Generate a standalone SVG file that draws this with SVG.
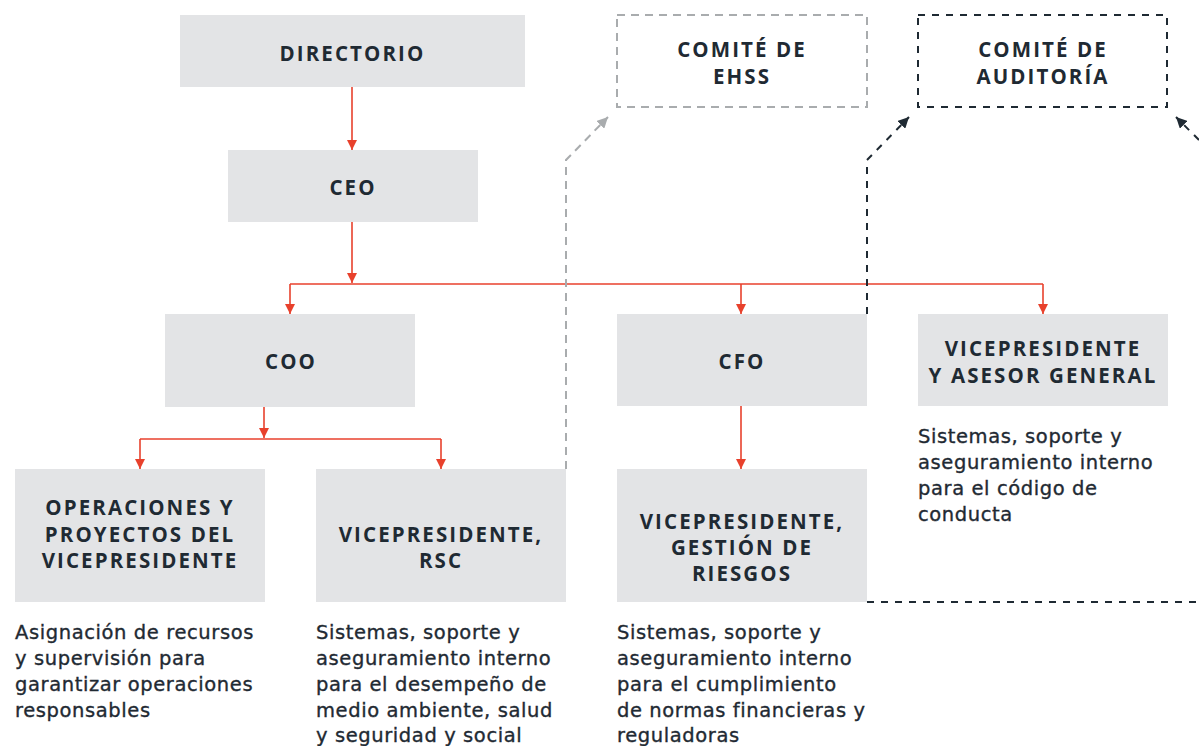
<svg xmlns="http://www.w3.org/2000/svg" width="1199" height="746" viewBox="0 0 1199 746">
<style>
.box{fill:#e3e4e6}
.t{font-family:"Open Sans","Noto Sans",sans-serif;font-weight:700;font-size:20.5px;letter-spacing:2.1px;fill:#1f2a33;text-anchor:middle}
.d{font-family:"DejaVu Sans","Open Sans",sans-serif;font-weight:400;font-size:19.5px;letter-spacing:0.6px;fill:#1f2a33;stroke:#1f2a33;stroke-width:0.35px}
.red{stroke:#e8412c;stroke-width:1.6;fill:none}
.gd{stroke:#a9acae;stroke-width:2;fill:none;stroke-dasharray:8 6}
.dd{stroke:#1f2a33;stroke-width:2;fill:none;stroke-dasharray:7 7}
</style>
<defs>
<marker id="ar" viewBox="0 0 10 10" refX="10" refY="5" markerWidth="10" markerHeight="10" markerUnits="userSpaceOnUse" orient="auto"><path d="M0,0 L10,5 L0,10 z" fill="#e8412c"/></marker>
<marker id="ag" viewBox="0 0 10 10" refX="10" refY="5" markerWidth="11" markerHeight="11" markerUnits="userSpaceOnUse" orient="auto"><path d="M0,0 L10,5 L0,10 z" fill="#a9acae"/></marker>
<marker id="ak" viewBox="0 0 10 10" refX="10" refY="5" markerWidth="11" markerHeight="11" markerUnits="userSpaceOnUse" orient="auto"><path d="M0,0 L10,5 L0,10 z" fill="#1f2a33"/></marker>
</defs>
<g id="connectors">
<path class="red" d="M352,87 V150" marker-end="url(#ar)"/>
<path class="red" d="M352,222 V283" marker-end="url(#ar)"/>
<path class="red" d="M290,284 H1043"/>
<path class="red" d="M290,284 V314" marker-end="url(#ar)"/>
<path class="red" d="M741,284 V314" marker-end="url(#ar)"/>
<path class="red" d="M1043,284 V314" marker-end="url(#ar)"/>
<path class="red" d="M264,407 V438" marker-end="url(#ar)"/>
<path class="red" d="M140,439 H441"/>
<path class="red" d="M140,439 V469" marker-end="url(#ar)"/>
<path class="red" d="M441,439 V469" marker-end="url(#ar)"/>
<path class="red" d="M741,406 V469" marker-end="url(#ar)"/>
<path class="gd" d="M566,469 V160 L608,117" marker-end="url(#ag)"/>
<path class="dd" d="M867,314 V160 L909,117" marker-end="url(#ak)"/>
<path class="dd" d="M867,602 H1199"/>
<path class="dd" d="M1199,140 L1176,117" marker-end="url(#ak)"/>
</g>
<g id="directorio"><rect class="box" x="180" y="15" width="345" height="72"/><text class="t" x="352.5" y="61">DIRECTORIO</text></g>
<g id="ceo"><rect class="box" x="228" y="150" width="250" height="72"/><text class="t" x="353" y="195">CEO</text></g>
<g id="comite-ehss"><rect x="617" y="15" width="250" height="92" fill="none" stroke="#a9acae" stroke-width="2" stroke-dasharray="8 6"/><text class="t" x="742" y="57">COMITÉ DE</text><text class="t" x="742" y="84">EHSS</text></g>
<g id="comite-auditoria"><rect x="918" y="15" width="249" height="92" fill="none" stroke="#1f2a33" stroke-width="2" stroke-dasharray="7 7"/><text class="t" x="1043" y="57">COMITÉ DE</text><text class="t" x="1043" y="84">AUDITORÍA</text></g>
<g id="coo"><rect class="box" x="165" y="314" width="250" height="93"/><text class="t" x="291" y="369">COO</text></g>
<g id="cfo"><rect class="box" x="617" y="314" width="250" height="92"/><text class="t" x="742" y="369">CFO</text></g>
<g id="vp-asesor"><rect class="box" x="918" y="314" width="250" height="92"/><text class="t" x="1043" y="356">VICEPRESIDENTE</text><text class="t" x="1043" y="383">Y ASESOR GENERAL</text>
<text class="d" x="918"><tspan x="918" y="443">Sistemas, soporte y</tspan><tspan x="918" y="469">aseguramiento interno</tspan><tspan x="918" y="495">para el código de</tspan><tspan x="918" y="521">conducta</tspan></text></g>
<g id="vp-operaciones"><rect class="box" x="15" y="469" width="250" height="133"/><text class="t" x="140" y="515">OPERACIONES Y</text><text class="t" x="140" y="542">PROYECTOS DEL</text><text class="t" x="140" y="568">VICEPRESIDENTE</text>
<text class="d"><tspan x="15" y="639">Asignación de recursos</tspan><tspan x="15" y="665">y supervisión para</tspan><tspan x="15" y="691">garantizar operaciones</tspan><tspan x="15" y="717">responsables</tspan></text></g>
<g id="vp-rsc"><rect class="box" x="316" y="469" width="250" height="133"/><text class="t" x="441" y="542">VICEPRESIDENTE,</text><text class="t" x="441" y="568">RSC</text>
<text class="d"><tspan x="316" y="639">Sistemas, soporte y</tspan><tspan x="316" y="665">aseguramiento interno</tspan><tspan x="316" y="691">para el desempeño de</tspan><tspan x="316" y="717">medio ambiente, salud</tspan><tspan x="316" y="742">y seguridad y social</tspan></text></g>
<g id="vp-riesgos"><rect class="box" x="617" y="469" width="250" height="133"/><text class="t" x="742" y="529">VICEPRESIDENTE,</text><text class="t" x="742" y="555">GESTIÓN DE</text><text class="t" x="742" y="581">RIESGOS</text>
<text class="d"><tspan x="617" y="639">Sistemas, soporte y</tspan><tspan x="617" y="665">aseguramiento interno</tspan><tspan x="617" y="691">para el cumplimiento</tspan><tspan x="617" y="717">de normas financieras y</tspan><tspan x="617" y="742">reguladoras</tspan></text></g>
</svg>
